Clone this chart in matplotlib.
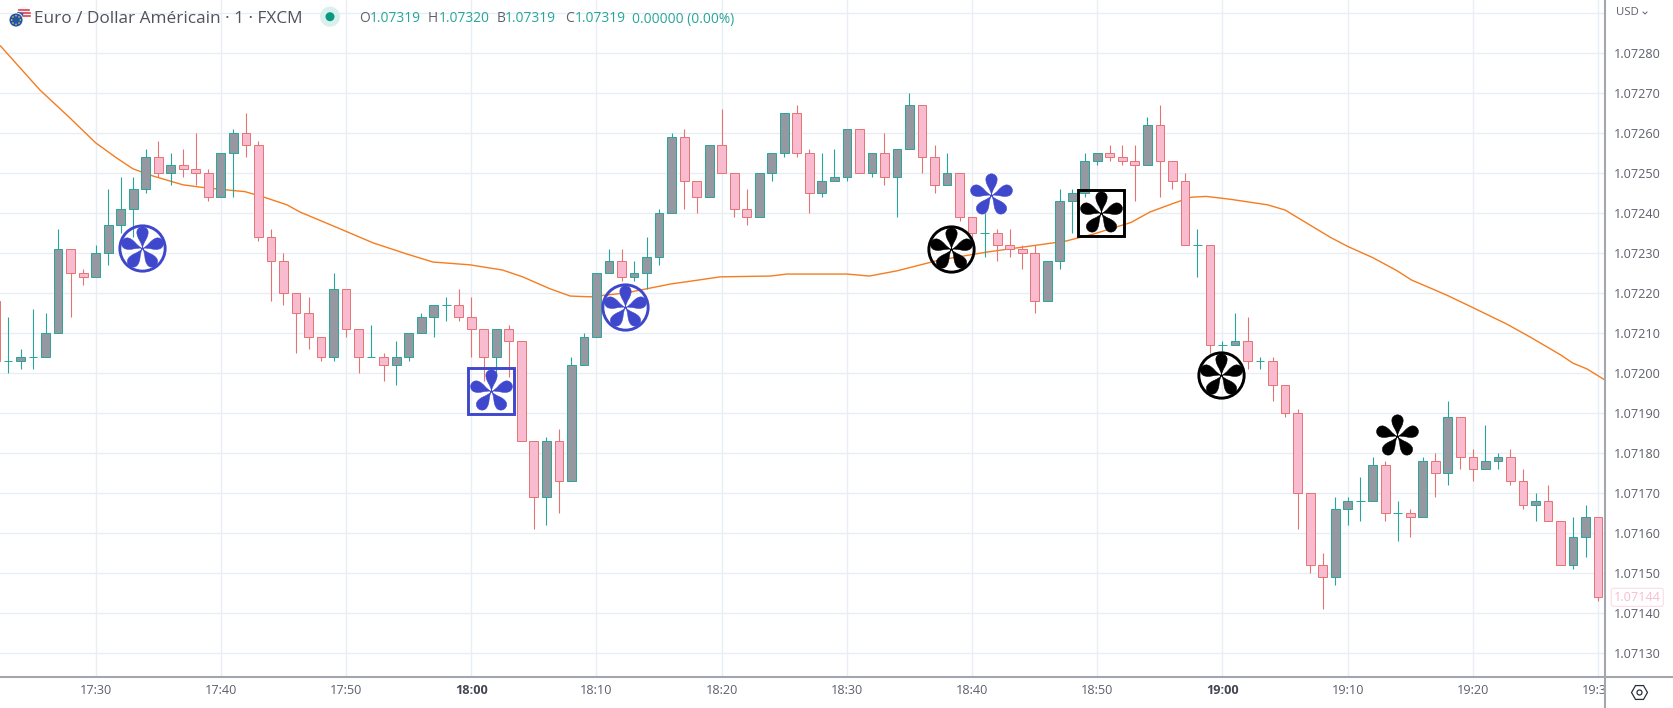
import numpy as np
import matplotlib
matplotlib.use("Agg")
import matplotlib.pyplot as plt
from matplotlib.path import Path
from matplotlib.patches import Circle, Wedge
from matplotlib.transforms import Affine2D, Bbox

W, H = 1673, 708

# candles, one per minute, minutes counted from 17:30
# prices are in 0.00001 above 1.07000
minutes = list(range(-8, 121))
opens = [218, 203, 203, 204, 204, 210, 231, 225, 224, 230, 237, 241, 246, 254, 250, 252, 251, 250, 244, 255, 260, 257,
         234, 228, 220, 215, 209, 204, 221, 211, 204, 204, 202, 204, 210, 214, 217, 217, 214, 211, 204, 211, 208, 183,
         169, 183, 173, 202, 209, 225, 228, 224, 225, 229, 240, 259, 248, 244, 257, 250, 241, 239, 250, 255, 265, 255,
         245, 248, 249, 261, 250, 255, 249, 256, 267, 254, 247, 250, 239, 235, 235, 232, 231, 230, 218, 228, 243, 245,
         253, 255, 254, 253, 252, 262, 253, 248, 232, 232, 207, 207, 208, 203, 203, 197, 190, 170, 152, 149, 166, 168,
         168, 177, 165, 165, 164, 178, 175, 189, 179, 176, 178, 179, 173, 167, 168, 163, 152, 159, 164]
highs = [218, 214, 206, 216, 215, 236, 231, 226, 232, 246, 249, 249, 256, 258, 255, 256, 260, 251, 255, 261, 265, 258,
         236, 230, 220, 219, 209, 225, 221, 211, 212, 205, 208, 210, 215, 217, 219, 221, 219, 211, 211, 212, 208, 183,
         184, 186, 204, 210, 225, 231, 231, 228, 234, 241, 260, 261, 248, 257, 266, 250, 246, 250, 255, 265, 267, 256,
         255, 256, 261, 261, 255, 260, 256, 270, 267, 257, 255, 250, 239, 240, 236, 236, 232, 232, 228, 246, 246, 255,
         255, 257, 257, 257, 264, 267, 253, 250, 236, 232, 208, 215, 214, 204, 204, 197, 191, 170, 155, 169, 169, 174,
         179, 178, 168, 166, 179, 180, 193, 189, 181, 187, 180, 181, 176, 170, 172, 163, 164, 167, 164]
lows = [203, 200, 201, 201, 204, 210, 214, 222, 224, 227, 235, 234, 245, 249, 247, 249, 247, 243, 244, 244, 254, 233,
        218, 217, 205, 206, 203, 203, 209, 200, 204, 198, 197, 203, 210, 209, 213, 213, 204, 198, 199, 199, 183, 161,
        162, 165, 173, 202, 209, 225, 223, 223, 221, 227, 240, 241, 240, 244, 250, 239, 237, 239, 248, 254, 254, 240,
        244, 248, 248, 250, 249, 247, 239, 256, 250, 245, 247, 238, 232, 229, 228, 229, 226, 215, 218, 226, 235, 244,
        252, 253, 252, 243, 252, 244, 246, 232, 224, 205, 205, 207, 201, 201, 193, 189, 161, 150, 141, 147, 162, 163,
        168, 163, 158, 159, 164, 169, 172, 176, 173, 176, 176, 172, 166, 163, 163, 152, 151, 154, 143]
closes = [203, 203, 204, 204, 210, 231, 225, 224, 230, 237, 241, 246, 254, 250, 252, 251, 250, 244, 255, 260, 257, 234,
          228, 220, 215, 209, 204, 221, 211, 204, 204, 202, 204, 210, 214, 217, 217, 214, 211, 204, 211, 208, 183, 169,
          183, 173, 202, 209, 225, 228, 224, 225, 229, 240, 259, 248, 244, 257, 250, 241, 239, 250, 255, 265, 255, 245,
          248, 249, 261, 250, 255, 249, 256, 267, 254, 247, 250, 239, 235, 235, 232, 231, 230, 218, 228, 243, 245, 253,
          255, 254, 253, 252, 262, 253, 248, 232, 232, 207, 207, 208, 203, 203, 197, 190, 170, 152, 149, 166, 168, 168,
          177, 165, 165, 164, 178, 175, 189, 179, 176, 178, 179, 173, 167, 168, 163, 152, 159, 164, 144]

# orange moving average
ma_minutes = [-7.6, -4.45, -2.05, 0, 1.68, 2.98, 4.58, 6.97, 8.89, 11.92, 13.36, 15.28, 16.32, 19.75, 22.15, 24.86,
              26.94, 29.9, 32.5, 34.1, 36.3, 37.9, 39.5, 42.4, 45.9, 47.7, 49.9, 53.9, 55.2, 60, 61.8, 64, 67.4, 71.2,
              76.5, 77.3, 79.7, 82.7, 84.2, 86.1, 87.5, 88.7, 90.6, 93.6, 95, 98.6, 100, 102, 103.9, 105.1, 106.6, 108,
              110, 112.7, 114.6, 117, 118, 119.1, 120.55]
ma_values = [281.8, 270.8, 263.8, 257.6, 253.8, 251.1, 249.3, 247.1, 246.3, 245.4, 244.1, 242.1, 240.3, 235.8, 232.6,
             229.8, 227.8, 227.1, 225.8, 224.1, 221.1, 219.3, 219.1, 220.1, 222.3, 223.1, 224.1, 224.3, 224.8, 224.8,
             224.3, 225.6, 228.3, 230.3, 232.6, 232.9, 234.8, 237.7, 240.3, 242.5, 244, 244.2, 243.5, 242.1, 240.8,
             234, 231.7, 228.9, 225.7, 223.3, 221.3, 219.4, 216.4, 212.3, 209, 204.6, 202.5, 201.1, 198.3]

# signal markers
blue_circle_t, blue_circle_p = [3.72, 42.3], [231.2, 216.6]
blue_square_t, blue_square_p = [31.6], [195.5]
blue_plain_t, blue_plain_p = [71.5], [244.6]
black_circle_t, black_circle_p = [68.3, 89.9], [231, 199.5]
black_square_t, black_square_p = [80.3], [240]
black_plain_t, black_plain_p = [103.9], [184.3]

time_ticks = list(range(0, 130, 10))
time_labels = ["17:30", "17:40", "17:50", "18:00", "18:10", "18:20", "18:30", "18:40", "18:50", "19:00", "19:10",
               "19:20", "19:30"]
price_ticks = list(range(130, 300, 10))

last_price = 144

TEAL = "#26a69a"
RED = "#e57373"
GRAY_BODY = "#9598a1"
PINK_BODY = "#f8bbd0"
ORANGE = "#f57c1f"
BLUE = "#3f48cc"
TEXT = "#5d606b"
GRID = "#e8eef4"
AXIS = "#a3a6af"


def price(values):
    return 1.07 + np.asarray(values, dtype=float) / 1e5


def petal_marker():
    verts = [(0, 0), (0.02, 0.3), (0.26, 0.45), (0.26, 0.75), (0.26, 0.9), (0.13, 1), (0, 1),
             (-0.13, 1), (-0.26, 0.9), (-0.26, 0.75), (-0.26, 0.45), (-0.02, 0.3), (0, 0)]
    codes = [Path.MOVETO] + [Path.CURVE4] * 12
    petal = Path(verts, codes)
    return Path.make_compound_path(*[petal.transformed(Affine2D().rotate_deg(72 * i)) for i in range(5)])


plt.rcParams["font.family"] = ["Open Sans", "DejaVu Sans"]

fig = plt.figure(figsize=(W / 100, H / 100), dpi=100, facecolor="white")
ax = fig.add_axes([0, (H - 676.7) / H, 1605 / W, 676.7 / H])
ax.set_xlim(-7.64, 120.55)
ax.set_ylim(price(124.15), price(293.3))

# pixel coordinates, origin top left, for the chart furniture
px = Affine2D().scale(1, -1).translate(0, H)

ax.set_axisbelow(True)
ax.grid(True, color=GRID, lw=1.0)

ax.plot(ma_minutes, price(ma_values), color=ORANGE, lw=1.0, zorder=1.5)

minutes_arr = np.array(minutes)
o, h, l, c = price(opens), price(highs), price(lows), price(closes)
up = c >= o
ax.vlines(minutes_arr[up], l[up], h[up], color=TEAL, lw=0.8, zorder=2)
ax.vlines(minutes_arr[~up], l[~up], h[~up], color=RED, lw=0.8, zorder=2)
ax.bar(minutes_arr[up], (c - o)[up], bottom=o[up], width=0.7, color=GRAY_BODY, edgecolor=TEAL, lw=0.7, zorder=3)
ax.bar(minutes_arr[~up], (c - o)[~up], bottom=o[~up], width=0.7, color=PINK_BODY, edgecolor=RED, lw=0.7, zorder=3)

star = petal_marker()
star_size = 31.2
for ts, ps, col in [(blue_circle_t, blue_circle_p, BLUE), (blue_square_t, blue_square_p, BLUE),
                    (blue_plain_t, blue_plain_p, BLUE), (black_circle_t, black_circle_p, "black"),
                    (black_square_t, black_square_p, "black"), (black_plain_t, black_plain_p, "black")]:
    ax.plot(ts, price(ps), ls="none", marker=star, ms=star_size, mfc=col, mec=col, mew=0.4, zorder=6)
for ts, ps, col, shape in [(blue_circle_t, blue_circle_p, BLUE, "o"), (blue_square_t, blue_square_p, BLUE, "s"),
                           (black_circle_t, black_circle_p, "black", "o"), (black_square_t, black_square_p, "black", "s")]:
    ax.plot(ts, price(ps), ls="none", marker=shape, ms=32.6, mfc="none", mec=col, mew=2.1, zorder=6)

# axes
for side in ["top", "left"]:
    ax.spines[side].set_visible(False)
for side in ["right", "bottom"]:
    ax.spines[side].set_color(AXIS)
    ax.spines[side].set_linewidth(1.5)
ax.plot([1605, 1673], [676.7, 676.7], color=AXIS, lw=1.5, transform=px, clip_on=False)
ax.plot([1605, 1605], [676.7, 708], color=AXIS, lw=1.5, transform=px, clip_on=False)

ax.yaxis.tick_right()
ax.set_yticks(price(price_ticks))
ax.set_yticklabels(["" if v == 290 else f"{1.07 + v / 1e5:.5f}" for v in price_ticks])
ax.tick_params(axis="y", length=0, pad=6.3, labelsize=9.1, labelcolor=TEXT)
ax.set_xticks(time_ticks)
ax.set_xticklabels(time_labels)
ax.tick_params(axis="x", length=0, pad=5.5, labelsize=9.1, labelcolor=TEXT)
for lab in ax.get_xticklabels():
    lab.set_clip_box(Bbox([[0, 0], [1604, H]]))
    lab.set_clip_on(True)
    if lab.get_text() in ("18:00", "19:00"):
        lab.set_fontweight("bold")
        lab.set_color("#434651")

# last price tag
ax.annotate(f"{1.07 + last_price / 1e5:.5f}", xy=(1, price(last_price)), xycoords=ax.get_yaxis_transform(),
            xytext=(6.3, 0), textcoords="offset points", ha="left", va="center", fontsize=9.1, color="#f8bbd0",
            bbox=dict(boxstyle="round,pad=0.2,rounding_size=0.2", fc="white", ec="#fbdce7", lw=0.8),
            annotation_clip=False, zorder=8)

# USD and the small arrow
ax.text(1616, 12.7, "USD", transform=px, fontsize=8.2, color=TEXT, va="center", ha="left")
ax.plot([1643, 1645, 1647], [12, 14, 12], color=TEXT, lw=0.7, transform=px, clip_on=False)

# settings icon
ax.plot([1638.7], [692], marker="H", ms=11.5, mfc="none", mec="#2a2e39", mew=0.9, transform=px, clip_on=False)
ax.plot([1638.7], [692], marker="o", ms=3.6, mfc="none", mec="#2a2e39", mew=0.9, transform=px, clip_on=False)

# header
ax.text(34, 19, "Euro / Dollar Américain · 1 · FXCM", transform=px, fontsize=12.4, color="#50535e", va="center",
        ha="left")
ax.add_patch(Circle((330, 16.7), 10, transform=px, fc="#d9f0ec", ec="none", zorder=7))
ax.add_patch(Circle((330, 16.7), 4.5, transform=px, fc="#089981", ec="none", zorder=8))
for x, s, col in [(358.7, "O", TEXT), (369.4, "1.07319", TEAL), (427.5, "H", TEXT), (438.7, "1.07320", TEAL),
                  (496.4, "B", TEXT), (505, "1.07319", TEAL), (564.7, "C", TEXT), (574.4, "1.07319", TEAL),
                  (631.6, "0.00000 (0.00%)", TEAL)]:
    ax.text(x, 19, s, transform=px, fontsize=9.9, color=col, va="center", ha="left")

# little flag icon
ax.add_patch(Circle((23.5, 13), 6.5, transform=px, fc="#f4f4f6", ec="none", zorder=7))
for y, half in [(9.5, 5), (12.5, 6), (15.5, 6)]:
    ax.plot([23.5 - half, 23.5 + half], [y, y], color="#d9434e", lw=1.2, transform=px, clip_on=False, zorder=7.5)
ax.add_patch(Wedge((23.5, 13), 6.5, 100, 190, transform=px, fc="#3a5fa8", ec="none", zorder=7.6))
ax.add_patch(Circle((16, 20), 7, transform=px, fc="#1f55a5", ec="white", lw=0.6, zorder=8))
for ang in np.arange(0, 360, 45):
    ax.add_patch(Circle((16 + 4.3 * np.cos(np.radians(ang)), 20 + 4.3 * np.sin(np.radians(ang))), 0.8, transform=px,
                        fc="#f2c53d", ec="none", zorder=9))

fig.savefig("out.png", dpi=100, facecolor="white")
